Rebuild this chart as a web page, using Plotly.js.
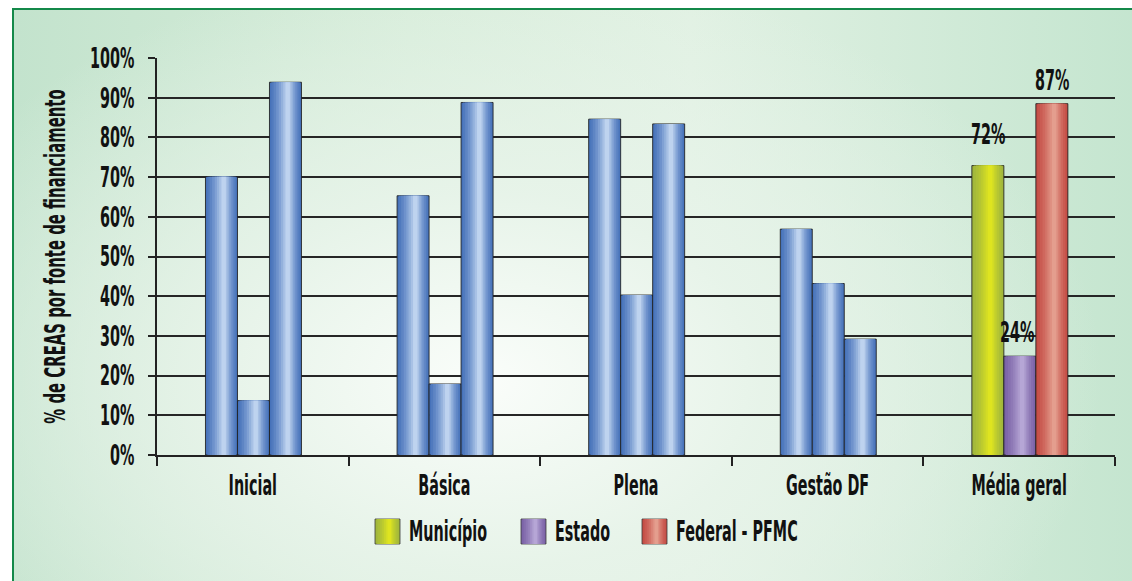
<!DOCTYPE html>
<html>
<head>
<meta charset="utf-8">
<script src="https://cdn.plot.ly/plotly-3.0.1.min.js"></script>
<style>
  html, body { margin: 0; padding: 0; width: 1132px; height: 581px; overflow: hidden; background: #ffffff; }
  #frame {
    position: absolute; left: 12px; top: 8px; width: 1130px; height: 585px;
    border-left: 2.5px solid #14894a; border-top: 2.5px solid #14894a;
    background:
      radial-gradient(ellipse 620px 420px at 470px 370px, rgba(250,253,250,1) 0%, rgba(232,244,234,0.9) 45%, rgba(215,237,220,0) 100%),
      linear-gradient(90deg, #c3e3cd 0%, #d7edda 35%, #e1f1e3 60%, #c4e5cf 100%);
  }
  #chart { position: absolute; left: 0; top: 0; width: 1132px; height: 581px; }
</style>
</head>
<body>
<div id="frame"></div>
<div id="chart"></div>
<script>
// ---- data ----
const categories = ['Inicial', 'Básica', 'Plena', 'Gestão DF', 'Média geral'];
const municipio = [70.1, 65.3, 84.6, 56.9, 72.9];
const estado = [13.7, 17.9, 40.3, 43.2, 24.9];
const federal = [93.9, 88.8, 83.4, 29.2, 88.5];
const seriesNames = ['Município', 'Estado', 'Federal - PFMC'];
const mediaLabels = ['72%', '24%', '87%'];
const yTickVals = [0, 10, 20, 30, 40, 50, 60, 70, 80, 90, 100];
const yTickText = ['0%', '10%', '20%', '30%', '40%', '50%', '60%', '70%', '80%', '90%', '100%'];
const yTitle = '% de CREAS por fonte de financiamento';

// ---- styles ----
const FONT = "'DejaVu Sans Condensed', 'DejaVu Sans', sans-serif";
const FS = 28;
const SQUISH = 0.57;
const blueEdge = [70, 114, 186], blueHi = [190, 211, 239];
const seriesEdge = [[160, 182, 60], [122, 98, 166], [196, 76, 68]];
const seriesHi = [[222, 228, 32], [182, 166, 214], [228, 158, 142]];
const layerFrac = [1, 0.9, 0.78, 0.64, 0.5, 0.38, 0.26, 0.14];
const barW = 0.167;
const offsets = [-0.247, -0.080, 0.087];
const seriesValues = [municipio, estado, federal];

function mix(a, b, t) {
  return 'rgb(' + a.map((v, i) => Math.round(v + (b[i] - v) * t)).join(',') + ')';
}
function layerT(k) { return Math.pow(k / (layerFrac.length - 1), 1.3); }
// highlight sits slightly right of centre
function layerOffset(f) { return barW * (1 - f) / 2 + barW * 0.08 * (1 - f); }

const traces = [];
seriesValues.forEach((vals, s) => {
  layerFrac.forEach((f, k) => {
    const t = layerT(k);
    const colors = categories.map((c, i) =>
      i < categories.length - 1 ? mix(blueEdge, blueHi, t) : mix(seriesEdge[s], seriesHi[s], t));
    traces.push({
      type: 'bar',
      x: categories,
      y: vals,
      width: barW * f,
      offset: offsets[s] + layerOffset(f),
      marker: {
        color: colors,
        line: k === 0 ? { width: 1, color: 'rgba(30,30,30,0.85)' } : { width: 0 }
      },
      showlegend: false,
      hoverinfo: 'skip',
      name: seriesNames[s]
    });
  });
});

// value labels on "Média geral"
const labelShift = [13, 5, 5];
const annotations = mediaLabels.map((lab, s) => ({
  x: categories.length - 1 + offsets[s] + barW / 2,
  y: seriesValues[s][categories.length - 1],
  xref: 'x', yref: 'y',
  text: lab,
  showarrow: false,
  yanchor: 'bottom',
  xshift: s === 1 ? -3 : 0,
  yshift: labelShift[s],
  font: { family: FONT, size: FS, weight: 'bold', color: '#111' }
}));

// manual legend (pixel -> paper helpers)
const L = 157, R = 1115, T = 58, B = 455;
const px = p => (p - L) / (R - L);
const py = p => (B - p) / (B - T);
const legendPos = [[375, 407], [521, 553], [642, 674]];
const shapes = [];
seriesNames.forEach((nm, s) => {
  const x0 = legendPos[s][0], w = 25, y0 = 519, y1 = 544;
  layerFrac.forEach((f, k) => {
    const t = layerT(k);
    const ww = w * f;
    const sh = w * 0.08 * (1 - f);
    shapes.push({
      type: 'rect', xref: 'paper', yref: 'paper',
      x0: px(x0 + (w - ww) / 2 + sh), x1: px(x0 + (w + ww) / 2 + sh),
      y0: py(y1), y1: py(y0),
      fillcolor: mix(seriesEdge[s], seriesHi[s], t),
      line: k === 0 ? { width: 1, color: 'rgba(60,60,60,0.8)' } : { width: 0 }
    });
  });
  annotations.push({
    xref: 'paper', yref: 'paper',
    x: px(legendPos[s][1]), y: py(531),
    xanchor: 'left', yanchor: 'middle',
    text: nm, showarrow: false,
    font: { family: FONT, size: FS, weight: 'bold', color: '#111' }
  });
});

const layout = {
  width: 1132, height: 581,
  margin: { l: L, r: 1132 - R, t: T, b: 581 - B, pad: 0 },
  paper_bgcolor: 'rgba(0,0,0,0)',
  plot_bgcolor: 'rgba(0,0,0,0)',
  barmode: 'overlay',
  showlegend: false,
  font: { family: FONT, size: FS, weight: 'bold', color: '#111' },
  xaxis: {
    type: 'category',
    showline: true, linecolor: '#222', linewidth: 2,
    ticks: 'outside', tickson: 'boundaries', ticklen: 9, tickwidth: 2, tickcolor: '#222',
    showgrid: false,
    tickfont: { family: FONT, size: FS, weight: 'bold', color: '#111' },
    ticklabelstandoff: 4
  },
  yaxis: {
    range: [0, 100],
    tickvals: yTickVals, ticktext: yTickText,
    showline: true, linecolor: '#222', linewidth: 2,
    ticks: 'outside', ticklen: 7, tickwidth: 2, tickcolor: '#222',
    showgrid: true, gridcolor: '#262626', gridwidth: 2,
    zeroline: false,
    tickfont: { family: FONT, size: FS, weight: 'bold', color: '#111' },
    ticklabelstandoff: 8,
    title: { text: yTitle, standoff: 0, font: { family: FONT, size: 29, weight: 'bold', color: '#111' } }
  },
  annotations: annotations,
  shapes: shapes
};

// Horizontally condense every text element about its own anchor point,
// to imitate the narrow display typeface of the original.
// Legend texts are condensed about their left edge (they are left-aligned);
// the y-axis title is moved so its centre sits at x = 55 px like the original.
const TITLE_CX = 55;
function condenseText(gd) {
  gd.querySelectorAll('svg text').forEach(el => {
    if (el.dataset.condensed) return;
    let ax = parseFloat(el.getAttribute('x')) || 0;
    if (seriesNames.indexOf(el.textContent) >= 0) ax = el.getBBox().x;
    let prev = el.getAttribute('transform') || '';
    if (el.classList.contains('ytitle')) {
      const r = el.getBoundingClientRect();
      const dx = TITLE_CX - (r.left + r.width / 2);
      prev = 'translate(' + dx + ',0) ' + prev;
    }
    el.setAttribute('transform',
      (prev + ' translate(' + ax + ',0) scale(' + SQUISH + ',1) translate(' + (-ax) + ',0)').trim());
    el.dataset.condensed = '1';
  });
}

Plotly.newPlot('chart', traces, layout, { staticPlot: true, displayModeBar: false })
  .then(gd => condenseText(gd));
</script>
</body>
</html>
